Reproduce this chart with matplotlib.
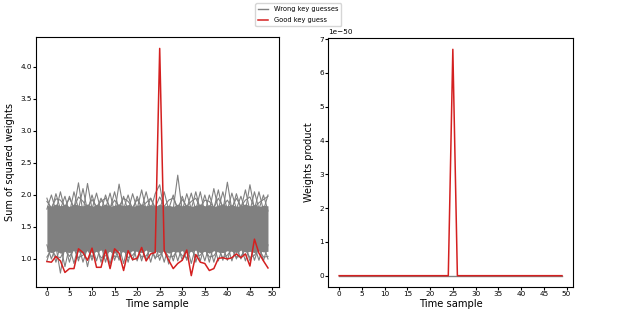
import numpy as np
import matplotlib.pyplot as plt

time_samples = np.arange(50)

# good key: sum of squared weights per time sample
good_key_sum = [0.96, 0.95, 1.04, 0.97, 0.79, 0.85, 0.85, 1.16, 1.10, 0.98,
                1.17, 0.87, 0.87, 1.14, 0.85, 1.16, 1.09, 0.82, 1.13, 0.99,
                1.01, 1.18, 0.97, 1.08, 1.10, 4.29, 1.13, 0.98, 0.85, 0.93,
                0.98, 1.14, 0.74, 1.07, 0.95, 0.93, 0.82, 0.85, 1.01, 1.02,
                1.00, 1.02, 1.08, 1.02, 1.08, 0.89, 1.31, 1.09, 0.97, 0.86]

# wrong keys: dense core of the band
wrong_core_top = [1.84, 1.82, 1.86, 1.83, 1.85, 1.82, 1.86, 1.84, 1.83, 1.86,
                  1.82, 1.85, 1.83, 1.86, 1.82, 1.84, 1.86, 1.83, 1.85, 1.82,
                  1.84, 1.86, 1.83, 1.85, 1.82, 1.86, 1.83, 1.84, 1.82, 1.86,
                  1.83, 1.85, 1.82, 1.84, 1.86, 1.83, 1.85, 1.82, 1.84, 1.86,
                  1.83, 1.85, 1.82, 1.84, 1.86, 1.83, 1.85, 1.82, 1.84, 1.83]
wrong_core_bottom = [1.12, 1.10, 1.13, 1.09, 1.12, 1.10, 1.14, 1.11, 1.09, 1.13,
                     1.10, 1.12, 1.14, 1.10, 1.12, 1.09, 1.13, 1.11, 1.10, 1.13,
                     1.12, 1.10, 1.14, 1.11, 1.12, 1.10, 1.13, 1.09, 1.12, 1.11,
                     1.13, 1.10, 1.12, 1.14, 1.10, 1.12, 1.09, 1.13, 1.11, 1.10,
                     1.13, 1.12, 1.10, 1.14, 1.11, 1.12, 1.10, 1.13, 1.11, 1.12]

# individual wrong-key traces spiking out of the core
wrong_up_a = [1.95, 1.75, 2.02, 1.78, 1.98, 1.72, 2.05, 1.78, 2.10, 1.75,
              2.00, 1.76, 1.95, 1.78, 2.03, 1.72, 2.17, 1.78, 2.00, 1.75,
              1.98, 1.78, 2.05, 1.76, 2.02, 2.16, 1.75, 1.78, 2.00, 1.75,
              1.98, 1.78, 2.03, 1.76, 2.05, 1.72, 2.00, 1.78, 2.08, 1.75,
              2.20, 1.76, 2.02, 1.78, 2.08, 1.75, 2.05, 1.78, 2.00, 1.75]
wrong_up_b = [1.78, 2.00, 1.75, 2.05, 1.76, 1.98, 1.78, 2.19, 1.72, 2.18,
              1.78, 2.03, 1.75, 2.00, 1.78, 2.05, 1.76, 1.98, 1.75, 2.02,
              1.78, 2.08, 1.76, 1.95, 1.78, 1.75, 2.05, 1.76, 1.78, 2.31,
              1.75, 2.02, 1.78, 2.05, 1.76, 2.00, 1.75, 2.10, 1.78, 2.05,
              1.76, 2.03, 1.78, 1.98, 1.75, 2.16, 1.78, 2.05, 1.76, 2.00]
wrong_up_c = [1.90, 1.80, 1.94, 1.92, 1.82, 1.95, 1.80, 1.97, 1.90, 1.80,
              1.93, 1.82, 1.90, 1.95, 1.80, 1.92, 1.82, 1.95, 1.90, 1.80,
              1.93, 1.82, 1.88, 1.95, 1.80, 1.97, 1.82, 1.92, 1.95, 1.80,
              1.93, 1.82, 1.90, 1.95, 1.80, 1.92, 1.90, 1.80, 1.95, 1.82,
              1.92, 1.80, 1.95, 1.82, 1.92, 1.97, 1.80, 1.88, 1.93, 1.98]
wrong_low_a = [0.97, 1.20, 0.95, 1.22, 0.88, 1.20, 0.93, 1.22, 0.95, 1.18,
               0.98, 1.22, 0.95, 1.20, 0.92, 1.22, 0.98, 1.20, 0.95, 1.22,
               0.97, 1.20, 0.98, 1.22, 1.00, 1.20, 0.95, 1.22, 0.97, 1.20,
               0.98, 1.22, 0.93, 1.20, 0.97, 1.22, 0.95, 1.22, 0.97, 1.20,
               0.98, 1.22, 1.00, 1.20, 0.97, 1.22, 0.98, 1.20, 0.97, 1.22]
wrong_low_b = [1.22, 1.00, 1.20, 0.78, 1.22, 0.95, 1.20, 0.97, 1.22, 0.88,
               1.20, 0.97, 1.22, 0.95, 1.22, 0.98, 1.20, 0.93, 1.22, 0.98,
               1.20, 0.97, 1.22, 0.95, 1.22, 0.98, 1.20, 0.92, 1.22, 0.97,
               1.20, 0.98, 1.22, 0.95, 1.20, 0.97, 1.22, 0.95, 1.20, 0.98,
               1.22, 0.97, 1.20, 1.00, 1.22, 0.97, 1.20, 0.98, 1.22, 1.00]
wrong_low_c = [1.03, 1.15, 1.04, 1.02, 1.15, 1.04, 1.15, 1.02, 1.06, 1.15,
               1.03, 1.15, 1.02, 1.05, 1.15, 1.04, 1.03, 1.15, 1.02, 1.06,
               1.15, 1.03, 1.05, 1.15, 1.02, 1.06, 1.15, 1.03, 1.04, 1.15,
               1.05, 1.02, 1.15, 1.04, 1.06, 1.15, 1.03, 1.05, 1.15, 1.02,
               1.06, 1.15, 1.03, 1.04, 1.15, 1.02, 1.06, 1.15, 1.03, 1.04]
wrong_traces = [wrong_up_a, wrong_up_b, wrong_up_c,
                wrong_low_a, wrong_low_b, wrong_low_c]

# weights product
good_key_prod = [0.0] * 50
good_key_prod[25] = 6.7e-50
wrong_key_prod = [0.0] * 50

gray = '#808080'
red = '#d42020'

fig = plt.figure(figsize=(6.4, 3.14), dpi=100)
ax1 = fig.add_axes([0.056, 0.086, 0.380, 0.796])
ax2 = fig.add_axes([0.5125, 0.086, 0.383, 0.793])

ax1.fill_between(time_samples, wrong_core_bottom, wrong_core_top, color=gray, lw=0)
for trace in wrong_traces:
    ax1.plot(time_samples, trace, color=gray, lw=0.8)
ax1.plot(time_samples, good_key_sum, color=red, lw=1.1)
ax1.set_ylabel("Sum of squared weights", fontsize=7)
ax1.set_xlabel("Time sample", fontsize=7.2, labelpad=1.5)

ax2.plot(time_samples, wrong_key_prod, color=gray, lw=1.0, label="Wrong key guesses")
ax2.plot(time_samples, good_key_prod, color=red, lw=1.1, label="Good key guess")
ax2.set_ylabel("Weights product", fontsize=7)
ax2.set_xlabel("Time sample", fontsize=7.2, labelpad=1.5)

for ax in (ax1, ax2):
    ax.set_xticks(range(0, 51, 5))
    ax.tick_params(labelsize=5.2, length=2, pad=1)
ax2.yaxis.get_offset_text().set_fontsize(5.2)

fig.legend(loc='upper center', bbox_to_anchor=(0.466, 1.0), fontsize=4.8,
           handlelength=1.5, borderpad=0.45, labelspacing=0.75)

fig.savefig('out.png', dpi=100)
